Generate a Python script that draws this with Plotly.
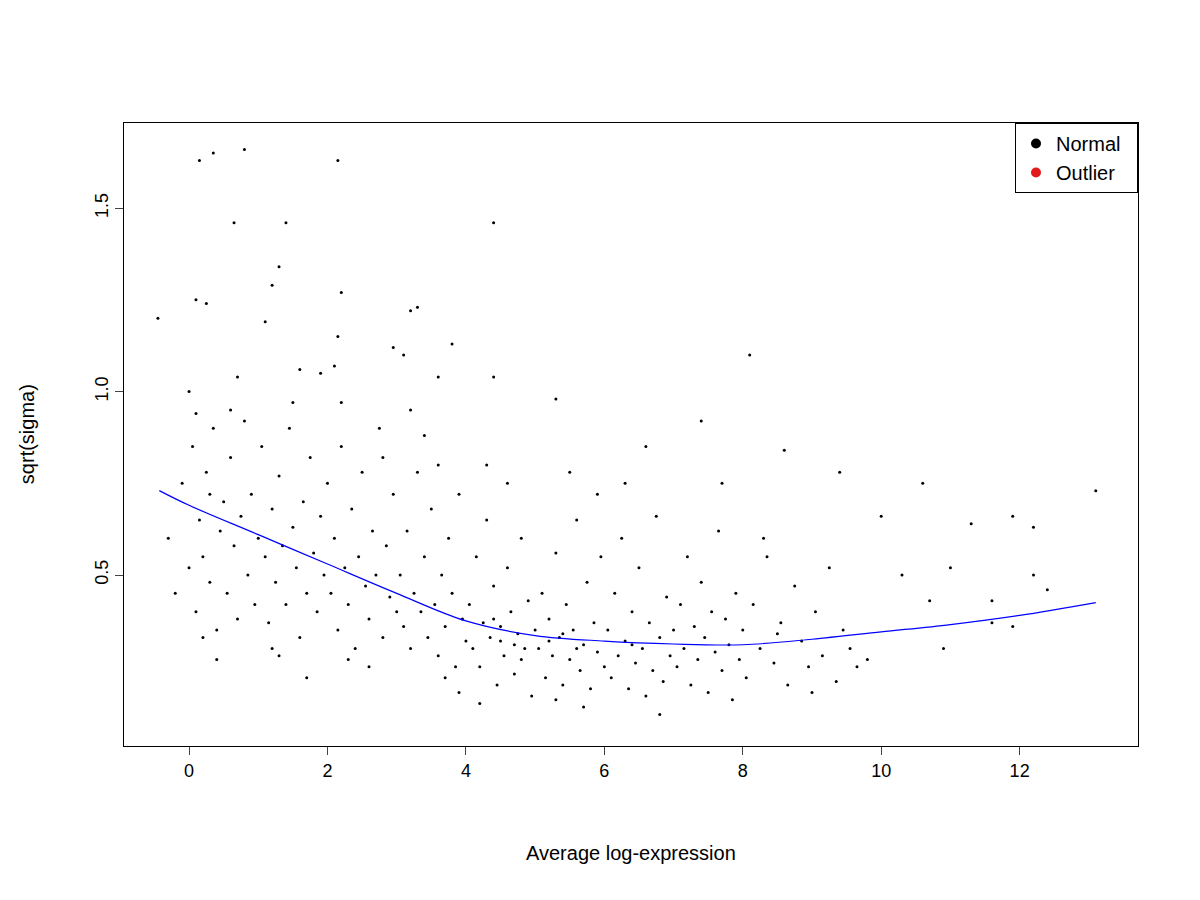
# -*- coding: utf-8 -*-
import plotly.graph_objects as go

# 外れ値 (目視で読み取った値)
sparse_x = [-0.45, 0.1, 0.15, 0.35, 0.25, 0.8, 0.65, 1.1, 1.2, 1.3, 1.4, 2.15, 2.2, 2.15, 3.2, 3.3, 4.4, 8.1, 13.1,
            3.8, 2.95, 3.1, 0.1, 0.0, 0.7, 1.9, 2.1, 1.6, 3.6, 4.4, 5.3, 7.4, 8.6, 9.4, 10.6, 10.0, 11.3, 11.9, 12.2,
            12.2, 12.4, 11.6, 11.6, 11.9, 10.9, 10.3, 10.7, 11.0]
sparse_y = [1.2, 1.25, 1.63, 1.65, 1.24, 1.66, 1.46, 1.19, 1.29, 1.34, 1.46, 1.63, 1.27, 1.15, 1.22, 1.23, 1.46, 1.1, 0.73,
            1.13, 1.12, 1.1, 0.94, 1.0, 1.04, 1.05, 1.07, 1.06, 1.04, 1.04, 0.98, 0.92, 0.84, 0.78, 0.75, 0.66, 0.64, 0.66, 0.63,
            0.5, 0.46, 0.43, 0.37, 0.36, 0.3, 0.5, 0.43, 0.52]

# 点群 (x,y)
cloud = """-0.3,0.6 -0.2,0.45 -0.1,0.75 0,0.52 0.05,0.85 0.1,0.4 0.15,0.65 0.2,0.55 0.25,0.78 0.3,0.48 0.35,0.9 0.4,0.35
0.45,0.62 0.5,0.7 0.55,0.45 0.6,0.82 0.65,0.58 0.7,0.38 0.75,0.66 0.8,0.92 0.85,0.5 0.9,0.72 0.95,0.42 1.0,0.6 0.4,0.27
0.2,0.33 0.6,0.95 0.3,0.72 1.05,0.85 1.1,0.55 1.15,0.37 1.2,0.68 1.25,0.48 1.3,0.77 1.35,0.58 1.4,0.42 1.45,0.9 1.5,0.63
1.55,0.52 1.6,0.33 1.65,0.7 1.7,0.45 1.75,0.82 1.8,0.56 1.85,0.4 1.9,0.66 1.95,0.5 2.0,0.75 1.3,0.28 1.7,0.22 1.5,0.97
1.2,0.3 2.05,0.45 2.1,0.6 2.15,0.35 2.2,0.85 2.25,0.52 2.3,0.42 2.35,0.68 2.4,0.3 2.45,0.55 2.5,0.78 2.55,0.47 2.6,0.38
2.65,0.62 2.7,0.5 2.75,0.9 2.8,0.33 2.85,0.58 2.9,0.44 2.95,0.72 3.0,0.4 2.3,0.27 2.6,0.25 2.2,0.97 2.8,0.82 3.05,0.5
3.1,0.36 3.15,0.62 3.2,0.3 3.25,0.45 3.3,0.78 3.35,0.4 3.4,0.55 3.45,0.33 3.5,0.68 3.55,0.42 3.6,0.28 3.65,0.5 3.7,0.36
3.75,0.6 3.8,0.45 3.85,0.25 3.9,0.72 3.95,0.38 4.0,0.32 3.4,0.88 3.7,0.22 3.9,0.18 3.2,0.95 3.6,0.8 4.05,0.42 4.1,0.3
4.15,0.55 4.2,0.25 4.25,0.37 4.3,0.65 4.35,0.33 4.4,0.47 4.45,0.2 4.5,0.36 4.55,0.28 4.6,0.52 4.65,0.4 4.7,0.23 4.75,0.34
4.8,0.6 4.85,0.3 4.9,0.43 4.95,0.17 5.0,0.35 4.3,0.8 4.6,0.75 4.2,0.15 4.8,0.27 4.4,0.38 4.5,0.32 4.7,0.31 5.05,0.3
5.1,0.45 5.15,0.22 5.2,0.38 5.25,0.28 5.3,0.56 5.35,0.33 5.4,0.2 5.45,0.42 5.5,0.27 5.55,0.35 5.6,0.65 5.65,0.24 5.7,0.31
5.75,0.48 5.8,0.19 5.85,0.37 5.9,0.29 5.95,0.55 6.0,0.25 5.5,0.78 5.9,0.72 5.3,0.16 5.7,0.14 5.2,0.32 5.6,0.3 5.4,0.34
6.05,0.35 6.1,0.22 6.15,0.45 6.2,0.28 6.25,0.6 6.3,0.32 6.35,0.19 6.4,0.4 6.45,0.26 6.5,0.52 6.55,0.3 6.6,0.17 6.65,0.37
6.7,0.24 6.75,0.66 6.8,0.33 6.85,0.21 6.9,0.44 6.95,0.28 7.0,0.35 6.6,0.85 6.8,0.12 6.3,0.75 6.4,0.31 7.05,0.25 7.1,0.42
7.15,0.3 7.2,0.55 7.25,0.2 7.3,0.36 7.35,0.27 7.4,0.48 7.45,0.33 7.5,0.18 7.55,0.4 7.6,0.29 7.65,0.62 7.7,0.24 7.75,0.38
7.8,0.31 7.85,0.16 7.9,0.45 7.95,0.27 8.0,0.35 7.7,0.75 8.05,0.22 8.15,0.42 8.25,0.3 8.35,0.55 8.45,0.26 8.55,0.37
8.65,0.2 8.75,0.47 8.85,0.32 8.95,0.25 9.05,0.4 9.15,0.28 9.25,0.52 9.35,0.21 9.45,0.35 9.55,0.3 9.65,0.25 8.3,0.6
9.0,0.18 8.5,0.34 9.8,0.27"""

# 平滑化曲線
trend_x = [-0.43, 0, 1, 2, 3, 4, 5, 6, 7, 8, 9, 10, 11, 12, 13.1]
trend_y = [0.73, 0.69, 0.61, 0.53, 0.45, 0.375, 0.335, 0.32, 0.312, 0.31, 0.325, 0.345, 0.365, 0.39, 0.425]

#点群の展開
pairs = [p.split(',') for p in cloud.split()]
all_x = sparse_x + [float(p[0]) for p in pairs]
all_y = sparse_y + [float(p[1]) for p in pairs]

fig_pts = go.Scatter(x=all_x, y=all_y, mode='markers', name='Normal',
                     marker={"color": "black", "size": 3}, showlegend=False)
fig_line = go.Scatter(x=trend_x, y=trend_y, mode='lines', line={"color": "blue", "width": 1.2, "shape": "spline"},
                      showlegend=False)
leg_normal = go.Scatter(x=[None], y=[None], mode='markers', name='Normal  ', marker={"color": "black", "size": 10})
leg_outlier = go.Scatter(x=[None], y=[None], mode='markers', name='Outlier  ', marker={"color": "#e31a1c", "size": 10})

layout = go.Layout(
    width=1200, height=900,
    font=dict(family="Liberation Sans, Arial", size=18, color="black"),
    plot_bgcolor="#ffffff", paper_bgcolor="#ffffff",
    margin={"l": 116, "r": 70, "t": 115, "b": 162},  # ページ余白8px分を補正
    xaxis={"range": [-0.94, 13.71], "tickvals": [0, 2, 4, 6, 8, 10, 12], "ticks": "outside", "ticklen": 8,
           "showgrid": False, "zeroline": False, "showline": True, "mirror": True, "linecolor": "black",
           "automargin": False},
    yaxis={"range": [0.034, 1.732], "tickvals": [0.5, 1.0, 1.5], "ticktext": ["0.5", "1.0", "1.5"],
           "ticks": "outside", "ticklen": 8, "tickangle": -90, "automargin": False,
           "showgrid": False, "zeroline": False, "showline": True, "mirror": True, "linecolor": "black"},
    legend={"x": 1, "y": 1, "xanchor": "right", "yanchor": "top", "bordercolor": "black", "borderwidth": 1,
            "bgcolor": "white", "font": {"size": 20}, "tracegroupgap": 0},
    annotations=[
        dict(text="Average log-expression", xref="paper", yref="paper", x=0.5, y=-0.172, yanchor="middle",
             showarrow=False, font={"size": 20}),
        dict(text="sqrt(sigma)", xref="paper", yref="paper", x=-0.096, y=0.5, xanchor="center",
             showarrow=False, textangle=-90, font={"size": 20}),
    ],
)

fig = go.Figure(data=[fig_pts, fig_line, leg_normal, leg_outlier], layout=layout)
fig.write_html("out.html")
